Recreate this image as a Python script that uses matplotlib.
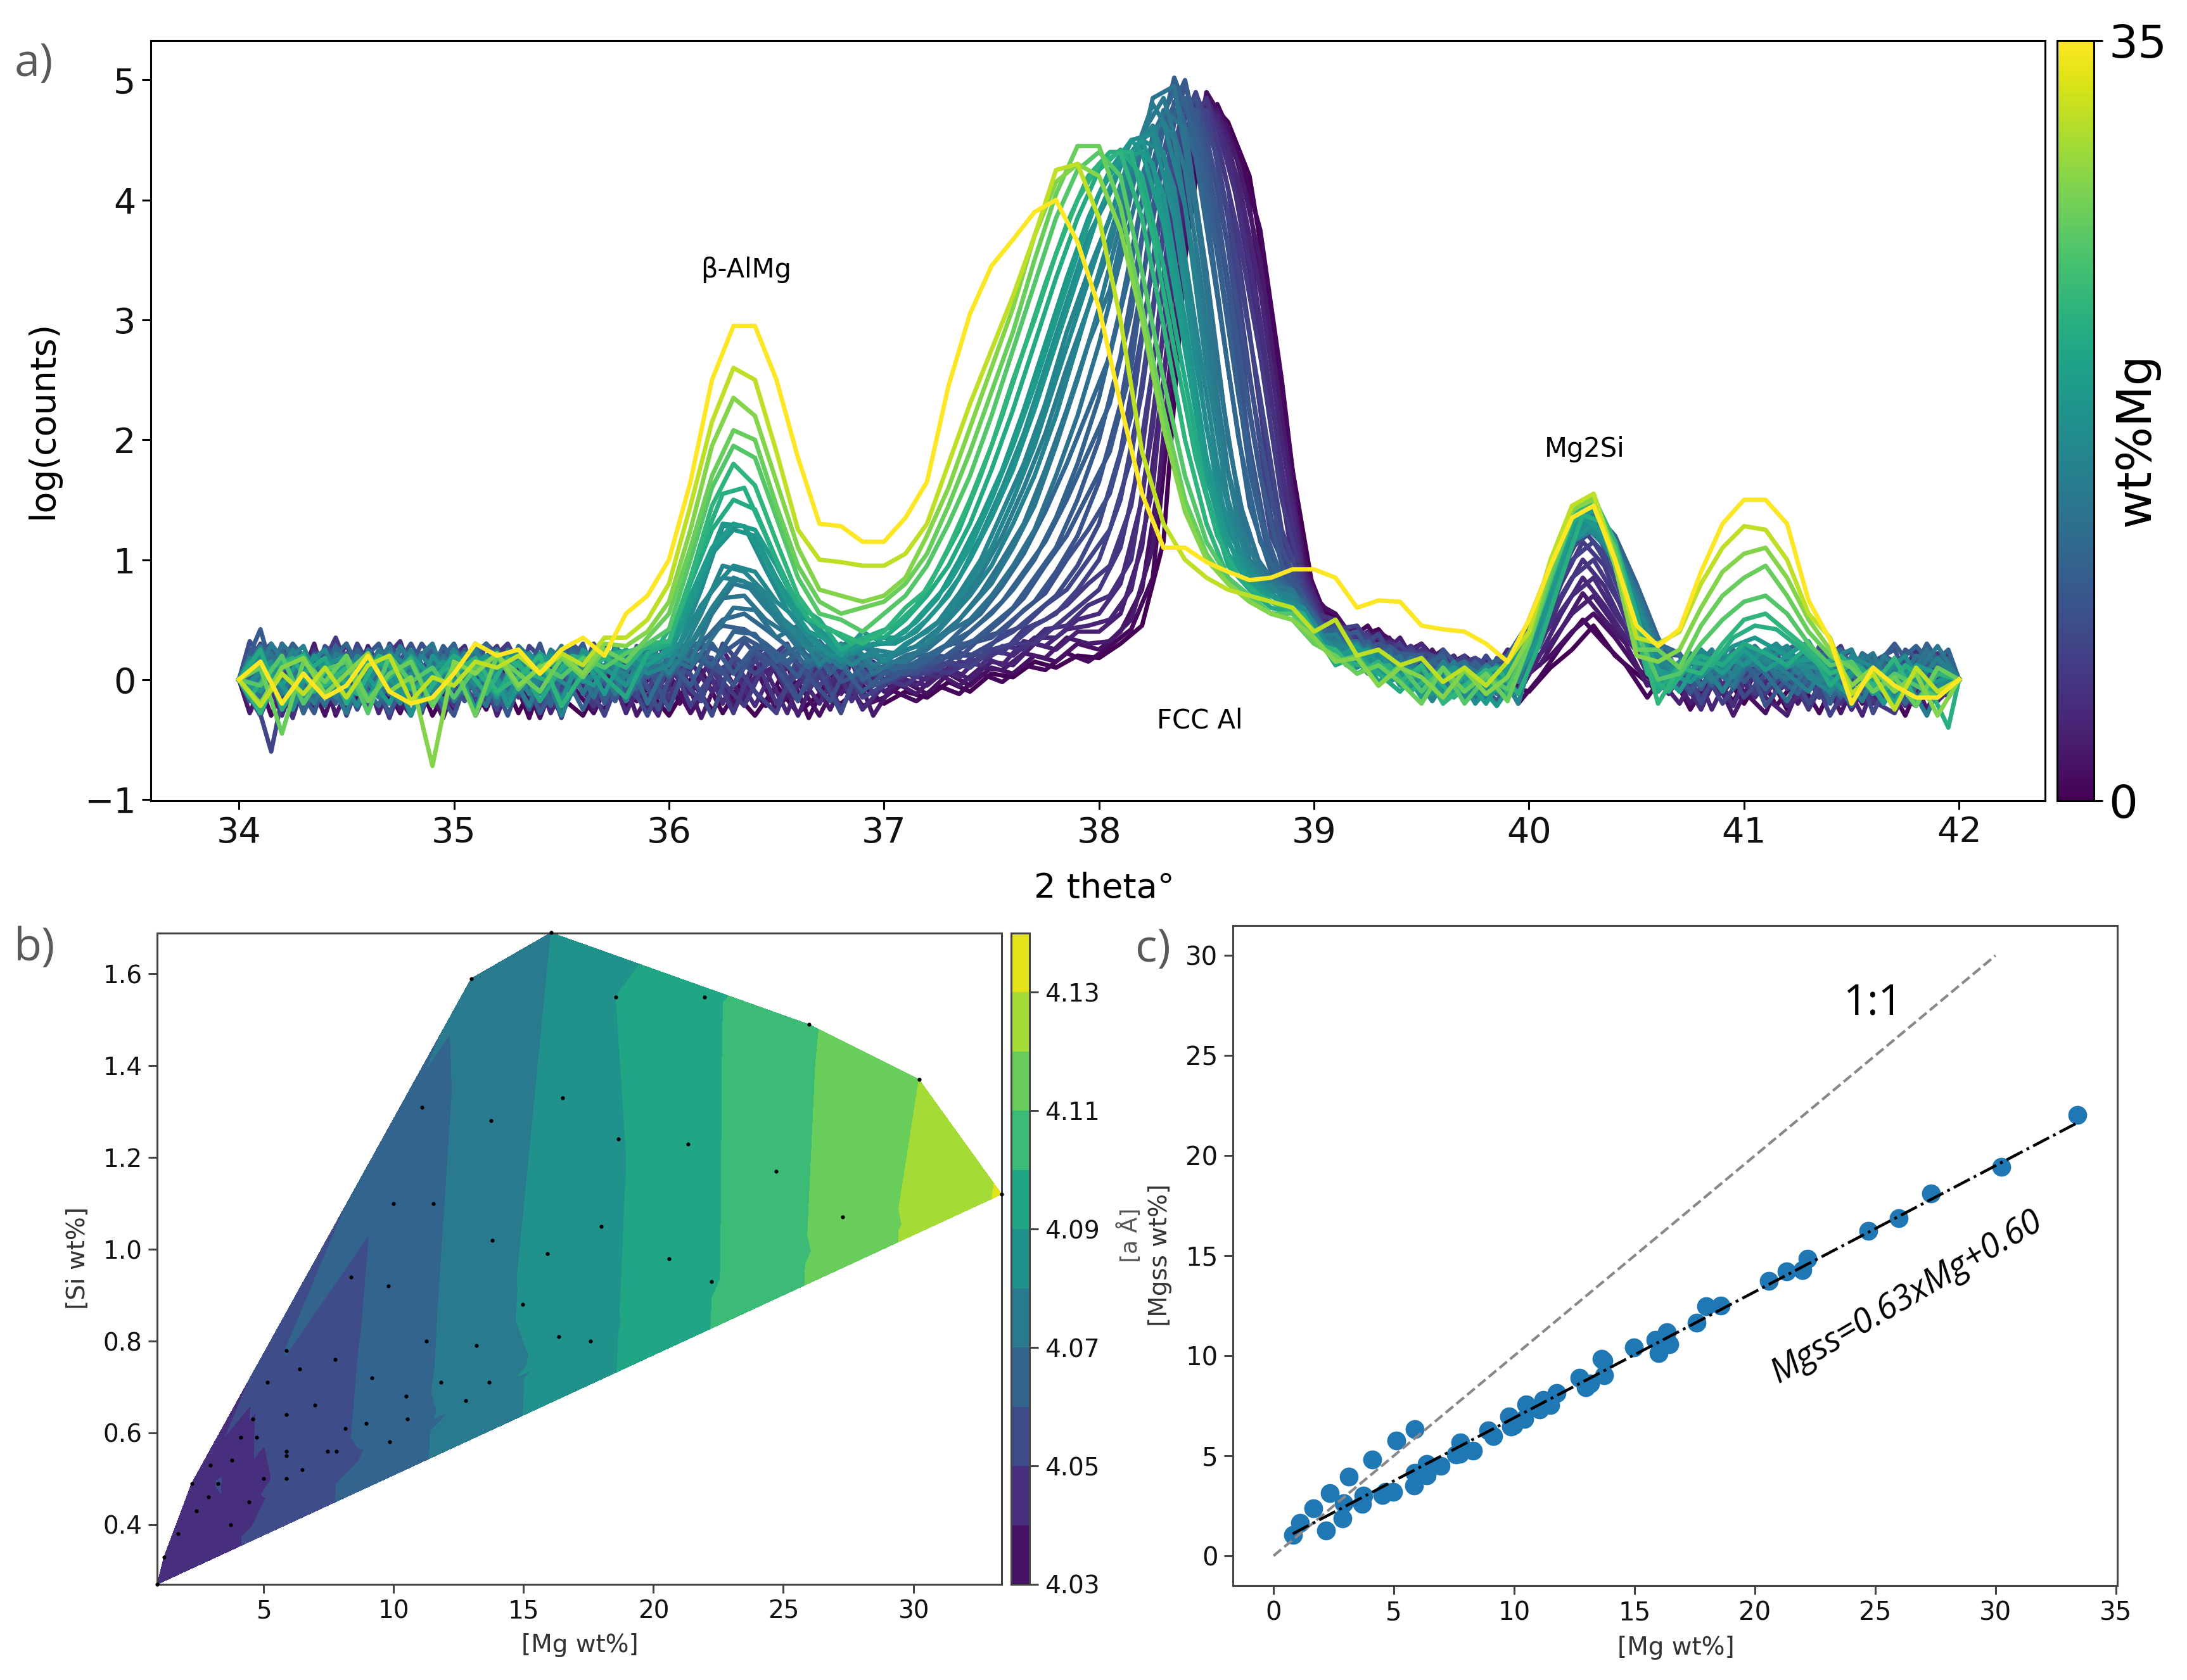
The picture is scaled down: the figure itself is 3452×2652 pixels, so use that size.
import numpy as np
import matplotlib
matplotlib.use('Agg')
import matplotlib.pyplot as plt
from matplotlib.cm import ScalarMappable
from matplotlib.colors import Normalize

W, H = 3452, 2652

# a) scans on a 0.1 degree grid from 34 to 42
two_theta = [round(34 + i * 0.1, 1) for i in range(81)]
scan_mg = [0.8, 2.2, 3.7, 4.7, 5.9, 7.0, 8.0, 9.2, 10.0, 11.0, 12.8, 13.7,
           15.0, 16.0, 17.6, 18.6, 20.6, 22.0, 24.7, 26.0, 27.3, 30.2, 33.4]
scans = [
    [0,-.12,.18,-.22,.1,-.25,.05,-.18,.15,-.3,
     .02,-.2,.12,-.28,.08,-.15,-.3,.05,-.22,-.08,
     -.3,.0,-.25,-.1,-.3,-.05,-.28,-.12,-.2,-.05,
     -.2,-.1,-.15,-.02,-.1,.05,.02,.15,.1,.2,
     .18,.3,.45,1.15,3.5,4.85,4.65,4.2,3.1,1.75,
     .7,.5,.35,.42,.2,.3,.1,.2,.05,-.05,
     -.1,.1,.25,.45,.2,.05,-.1,.1,-.15,.08,
     -.2,.1,-.25,.05,-.2,.1,-.15,.05,-.2,.15,0],
    [0,.22,-.15,.12,-.3,.2,-.12,.25,-.2,.08,
     -.25,.18,-.15,.1,-.32,.15,-.1,-.25,.12,-.18,
     .05,-.28,.0,-.2,.1,-.25,-.02,-.3,.05,-.22,
     -.15,-.02,-.12,.05,-.05,.1,.05,.2,.15,.3,
     .25,.4,.75,1.9,3.9,4.9,4.6,3.95,2.75,1.5,
     .65,.55,.3,.4,.28,.12,.25,.02,.15,-.12,
     .05,.2,.4,.55,.35,.1,-.05,.15,-.2,.1,
     -.1,-.28,.12,-.1,.15,-.25,.08,-.12,.2,-.1,0],
    [0,-.25,.3,-.1,.15,-.2,.28,-.05,-.3,.18,
     -.12,.25,-.3,.15,-.05,-.28,.1,-.15,.2,-.25,
     .1,-.12,.18,-.25,.02,.12,-.3,.1,-.12,.12,
     -.1,.0,-.05,.1,.0,.15,.12,.3,.25,.4,
     .4,.55,1.1,2.5,4.2,4.85,4.5,3.6,2.35,1.2,
     .6,.45,.42,.18,.35,.05,.22,.1,-.1,.2,
     .12,.3,.55,.7,.45,.25,.02,-.2,.12,-.12,
     .15,-.15,-.3,.12,-.18,.1,-.2,.18,-.12,.05,0],
    [0,.15,-.3,.2,-.05,.3,-.22,.1,.22,-.12,
     .2,-.3,.08,.25,-.2,.12,-.05,.2,-.28,.1,
     -.2,.15,-.1,.08,-.22,.15,.05,-.2,.12,-.25,
     -.05,.05,0,.15,.1,.25,.2,.35,.35,.5,
     .55,.8,1.5,2.9,4.4,4.85,4.4,3.4,2.1,1.0,
     .6,.4,.3,.35,.15,.3,.05,.18,-.02,.25,
     .2,.45,.7,.85,.55,.3,.1,.05,-.25,.15,
     -.05,.12,-.22,-.05,.12,-.25,.05,-.05,.25,-.18,0],
    [0,-.18,.25,-.28,.22,-.08,.15,-.32,.18,.05,
     -.22,.1,.28,-.15,.18,-.32,.22,-.12,-.02,.15,
     -.15,.2,.1,-.28,.18,-.2,.1,.15,-.25,.08,
     0,-.05,.1,.05,.15,.2,.3,.3,.45,.6,
     .75,1.1,1.9,3.3,4.55,4.85,4.1,2.9,1.6,.85,
     .55,.5,.28,.38,.12,.25,.15,-.05,.12,.05,
     .3,.55,.85,1.0,.7,.4,.12,.12,-.15,.05,
     .2,-.12,.1,-.25,.08,.18,-.18,-.28,.08,.22,0],
    [0,.3,-.08,.05,.25,-.3,.18,.1,-.12,.25,
     .08,-.18,.22,.02,-.25,.28,.05,-.3,.15,-.08,
     .2,-.22,.05,.15,-.1,-.28,.2,-.05,.15,-.15,
     -.05,.05,.05,.15,.1,.25,.3,.45,.55,.75,
     1.0,1.5,2.4,3.7,4.7,4.75,3.85,2.55,1.35,.8,
     .5,.42,.45,.2,.3,.08,.05,.2,-.12,.15,
     .35,.7,1.0,1.15,.85,.5,.2,-.05,.12,-.2,
     .05,.25,-.08,.15,-.3,.02,.2,-.1,-.22,.12,0],
    [0,-.3,.12,.22,-.15,.05,-.25,.3,.05,-.22,
     .25,.05,-.25,.18,.2,-.1,.25,-.15,.05,-.3,
     .12,.05,-.3,.2,.05,.18,-.15,.08,-.28,.2,
     0,.1,.08,.2,.2,.3,.4,.55,.7,.95,
     1.3,1.9,2.9,4.0,4.85,4.55,3.6,2.25,1.2,.8,
     .5,.38,.25,.38,.05,.22,.18,-.08,.2,-.05,
     .4,.8,1.1,1.25,.95,.55,.22,.2,-.2,.2,
     -.15,.05,.18,-.2,.1,.25,-.28,.1,.15,-.05,0],
    [0,.18,.05,-.2,.28,.12,-.18,.02,.3,-.05,
     -.3,.2,.1,-.12,.3,-.22,.02,.28,-.1,.12,
     -.25,.22,.18,-.05,.25,.1,-.18,.25,-.02,.05,
     .05,.05,.12,.2,.3,.35,.5,.65,.9,1.2,
     1.65,2.3,3.3,4.35,4.95,4.4,3.25,1.95,1.0,.8,
     .45,.45,.22,.3,.18,.0,.25,.05,-.15,.18,
     .45,.9,1.2,1.35,1.05,.6,.28,-.1,.15,.05,
     .22,-.22,.02,.22,-.12,-.05,.15,.25,-.15,.1,0],
    [0,.42,-.22,.18,-.02,.22,.08,-.28,.12,.25,
     -.02,.3,-.08,.18,-.28,.05,.3,-.2,.22,.02,
     .15,-.05,.3,.05,.28,.22,.02,.32,.12,-.1,
     .05,.12,.15,.3,.3,.45,.6,.85,1.1,1.5,
     2.0,2.7,3.7,4.6,5.0,4.2,3.0,1.75,.95,.75,
     .45,.35,.4,.12,.22,.2,-.05,.15,.05,-.08,
     .5,.95,1.3,1.4,1.15,.7,.3,.22,-.08,.22,
     -.02,.18,.28,-.05,.2,-.15,.08,.3,.05,-.02,0],
    [0,.05,.25,-.28,.12,.3,-.05,.15,-.2,.08,
     .3,-.12,.2,-.02,.22,.1,-.25,.12,-.05,.25,
     .02,.25,.12,.4,.38,.15,.28,.1,.3,.0,
     .1,.1,.2,.3,.4,.55,.75,1.0,1.35,1.8,
     2.35,3.1,4.0,4.6,4.85,3.9,2.6,1.45,.9,.7,
     .4,.42,.15,.25,.02,.12,.2,-.12,.12,.2,
     .48,.9,1.25,1.4,1.2,.8,.35,.05,.25,-.1,
     .15,-.08,.12,.22,-.2,.2,.02,.12,.28,.08,0],
    [0,-.15,.3,.1,-.22,.18,.05,.28,-.3,.15,
     -.05,.22,-.2,.28,.1,-.15,.18,.05,.25,-.2,
     .18,.1,.35,.6,.58,.35,.45,.15,.22,.12,
     .1,.2,.25,.4,.5,.7,.95,1.25,1.7,2.2,
     2.8,3.5,4.2,4.75,4.6,3.4,2.0,1.1,.85,.7,
     .4,.3,.32,.1,.2,-.1,.08,.15,-.18,.1,
     .42,.85,1.2,1.3,1.1,.75,.3,.2,-.05,.18,
     .2,.05,-.18,.15,.08,-.22,.15,-.08,.2,.15,0],
    [0,.28,-.12,.2,.05,-.28,.25,-.12,.12,.3,
     -.18,.08,.25,-.1,.02,.28,-.12,.22,-.18,.15,
     .25,.15,.55,.8,.75,.5,.3,.25,.1,.28,
     .15,.15,.3,.4,.6,.8,1.1,1.45,1.95,2.5,
     3.1,3.8,4.55,4.85,4.25,3.0,1.75,1.0,.8,.75,
     .4,.32,.15,.22,.05,.18,-.1,.12,.02,.05,
     .4,.9,1.25,1.38,1.15,.7,.25,.05,.22,.02,
     .28,.12,.0,.2,-.12,.1,.22,-.15,.05,.28,0],
    [0,-.2,.12,.28,-.15,.1,.2,-.05,.25,-.15,
     .12,.25,-.08,.05,.2,-.3,.1,.22,-.05,.3,
     .05,.3,.6,.85,.78,.55,.4,.12,.3,.2,
     .2,.25,.3,.5,.7,.95,1.3,1.7,2.2,2.8,
     3.4,4.0,4.5,4.65,3.95,2.6,1.5,.95,.75,.7,
     .35,.38,.1,.2,.08,-.12,.15,-.05,.12,.0,
     .38,.8,1.15,1.25,1.05,.6,.12,.1,.15,-.1,
     .22,.18,.05,-.1,.18,.25,-.12,.1,-.05,.18,0],
    [0,.2,-.22,.1,.25,-.1,-.02,.22,.1,-.12,
     .25,-.05,.15,.22,-.12,.2,-.02,.12,.25,.05,
     .12,.45,.75,.95,.9,.65,.5,.3,.15,.35,
     .15,.3,.4,.55,.8,1.1,1.5,1.95,2.5,3.05,
     3.6,4.1,4.5,4.4,3.4,2.1,1.25,.9,.7,.65,
     .4,.25,.3,.05,.15,-.02,.08,-.15,.1,-.05,
     .3,.75,1.2,1.35,1.1,.65,.2,.02,.25,.1,
     .3,.15,.28,.02,-.1,.2,.1,-.18,.12,-.12,0],
    [0,-.1,.18,-.18,.12,.2,-.15,.15,-.3,.2,
     -.02,.12,-.15,.25,.12,-.18,.25,.1,-.05,.2,
     .2,.6,1.05,1.25,1.2,.85,.55,.42,.25,.28,
     .3,.35,.5,.7,1.0,1.35,1.75,2.25,2.8,3.35,
     3.9,4.3,4.5,4.05,3.0,1.85,1.15,.85,.7,.6,
     .35,.22,.12,.25,-.05,.1,-.12,.05,-.08,.02,
     .28,.7,1.15,1.3,1.05,.55,-.05,.15,.02,.22,
     .12,.25,.1,.2,.05,.12,-.12,.15,-.02,-.15,0],
    [0,.12,-.05,.22,-.12,.18,.02,-.2,.2,.02,
     .15,-.25,.18,-.02,.22,.05,.2,-.12,.25,.12,
     .25,.7,1.1,1.3,1.25,.95,.6,.38,.2,.4,
     .3,.4,.6,.8,1.1,1.5,1.95,2.45,3.0,3.55,
     4.05,4.35,4.4,3.8,2.75,1.7,1.05,.8,.65,.6,
     .35,.18,.28,-.02,.12,-.15,.08,.02,-.2,.1,
     .32,.78,1.25,1.42,1.1,.5,.08,-.1,.2,.05,
     .25,.08,.2,.32,.02,-.15,.1,-.08,.12,.05,0],
    [0,.25,-.25,.05,.18,-.2,.15,.12,-.08,-.02,
     .2,.08,-.12,.15,-.18,.1,.2,.02,-.15,.22,
     .3,.8,1.25,1.5,1.42,1.0,.62,.5,.25,.35,
     .35,.5,.7,.95,1.3,1.75,2.25,2.8,3.35,3.85,
     4.25,4.42,4.2,3.45,2.5,1.55,.95,.75,.6,.55,
     .4,.12,.2,.05,-.1,.1,-.18,.05,-.02,-.15,
     .35,.85,1.3,1.5,1.15,.55,-.1,.12,.2,.12,
     .3,.22,.12,.28,-.05,.15,.02,-.2,.1,-.12,0],
    [0,-.28,.12,.2,-.05,.1,-.15,.02,.18,-.22,
     .05,.18,-.1,.02,.2,-.22,.05,.18,.1,.3,
     .32,.85,1.45,1.8,1.62,1.15,.7,.45,.38,.3,
     .4,.6,.75,1.1,1.5,1.95,2.5,3.0,3.55,4.0,
     4.3,4.4,3.85,2.95,2.0,1.3,.85,.7,.55,.5,
     .3,.25,.05,.15,-.02,.12,-.2,-.05,.08,-.1,
     .3,.82,1.35,1.52,1.15,.45,-.2,.1,.05,.3,
     .5,.55,.4,.25,.05,.12,-.05,.18,-.18,.05,0],
    [0,-.05,.2,-.2,.08,.15,-.28,.2,-.02,.1,
     -.15,.1,.2,-.08,.12,.02,.18,.1,.22,.3,
     .42,1.0,1.6,1.95,1.85,1.35,.85,.55,.5,.4,
     .55,.7,.95,1.3,1.7,2.2,2.75,3.3,3.85,4.25,
     4.4,4.2,3.4,2.5,1.7,1.15,.85,.7,.55,.55,
     .35,.15,.2,-.05,.12,-.1,.1,-.2,.02,-.08,
     .3,.85,1.35,1.45,1.1,.4,.0,.05,.3,.5,
     .65,.7,.55,.3,.12,.15,-.1,.05,-.05,-.15,0],
    [0,.1,-.45,.15,-.02,.2,-.18,.05,.15,-.22,
     .12,-.3,.2,.05,-.1,.18,.02,.25,.15,.35,
     .55,1.1,1.7,2.08,2.0,1.45,.95,.65,.55,.6,
     .65,.8,1.05,1.45,1.9,2.4,2.9,3.5,4.05,4.45,
     4.45,3.95,3.1,2.25,1.5,1.05,.8,.65,.55,.5,
     .3,.2,.05,.12,-.02,-.2,.1,-.1,.05,-.18,
     .3,.9,1.4,1.55,1.05,.25,.25,.1,.45,.7,
     .85,.95,.7,.4,.2,.1,-.1,.02,-.22,.1,0],
    [0,-.2,.1,.18,-.12,.05,.22,-.1,.02,-.72,
     .15,.05,.22,-.05,.1,.2,.05,.3,.28,.4,
     .65,1.25,1.95,2.35,2.2,1.65,1.1,.75,.7,.65,
     .7,.85,1.2,1.6,2.1,2.6,3.1,3.7,4.15,4.3,
     4.2,3.75,3.0,2.1,1.4,1.0,.8,.65,.55,.5,
     .35,.15,.18,-.05,.1,.02,-.15,.08,-.12,.02,
     .35,.95,1.42,1.5,.95,.2,.15,.25,.6,.9,
     1.05,1.1,.85,.5,.25,-.05,.1,-.1,.05,-.3,0],
    [0,-.22,.05,-.12,.1,-.15,.12,.2,-.18,.02,
     -.05,.15,.1,.2,.05,.22,.12,.35,.35,.5,
     .8,1.45,2.15,2.6,2.5,1.9,1.25,1.0,.98,.95,
     .95,1.05,1.3,1.8,2.3,2.75,3.2,3.7,4.25,4.3,
     3.85,3.0,1.9,1.3,1.0,.85,.75,.7,.65,.6,
     .4,.5,.2,.25,.12,.18,-.02,.1,-.05,.15,
     .4,1.0,1.45,1.55,1.0,.35,.3,.4,.8,1.1,
     1.28,1.25,1.0,.55,.35,-.12,.05,-.25,.1,-.1,0],
    [0,.15,-.2,.05,-.15,-.05,.2,-.1,-.2,-.15,
     .05,.3,.2,.25,.05,.25,.35,.2,.55,.7,
     1.0,1.65,2.5,2.95,2.95,2.5,1.85,1.3,1.28,1.15,
     1.15,1.35,1.65,2.45,3.05,3.45,3.67,3.9,4.0,3.65,
     3.1,2.3,1.55,1.1,1.1,.98,.9,.83,.85,.92,
     .92,.85,.6,.66,.65,.45,.42,.4,.3,.15,
     .5,.95,1.35,1.45,1.0,.45,.28,.42,.9,1.3,
     1.5,1.5,1.3,.66,.33,-.2,.1,-.05,-.15,-.15,0],
]

# more scans read between the steps of that grid: 34, 34.05, 34.15 ... 41.95, 42
two_theta_mid = [34.0] + [round(34.05 + i * 0.1, 2) for i in range(80)] + [42.0]
mid_mg = [1.5, 3.0, 4.2, 5.3, 6.4, 7.5, 8.6, 9.6, 10.5, 11.5, 13.2, 14.3, 15.5, 16.4, 18.0, 21.3]
mid_scans = [
    [0,.2,-.3,.12,-.22,.28,-.15,.05,-.28,.22,-.1,
     .05,-.25,.15,-.32,.22,-.05,-.28,.1,-.18,.18,
     -.2,.08,-.28,.02,-.22,.12,-.32,.05,-.15,.1,
     -.1,-.18,-.05,-.12,.05,-.02,.12,.08,.22,.15,
     .28,.42,.85,2.6,4.5,4.8,4.4,3.75,2.5,1.0,
     .55,.32,.45,.18,.28,.08,.2,-.05,.12,-.2,
     .02,.28,.5,.3,.12,-.15,.1,-.25,.05,-.18,
     .12,-.22,.02,-.28,.1,-.2,.02,-.3,.12,-.15,0],
    [0,-.28,.15,-.18,.3,-.3,.1,.2,-.25,.05,-.32,
     .18,-.1,.28,-.2,.05,.15,-.25,.2,-.3,.02,
     .15,-.32,.1,-.18,.22,-.12,.05,-.25,.15,-.3,
     -.02,-.12,.05,-.05,.1,.08,.22,.18,.35,.3,
     .32,.5,1.1,3.0,4.6,4.75,4.3,3.5,2.2,.95,
     .5,.38,.2,.35,.05,.25,-.02,.15,-.1,.08,
     .12,.42,.72,.5,.3,-.05,.12,-.2,.08,-.3,
     .05,.15,-.2,.1,-.28,.12,-.05,.18,-.25,.1,0],
    [0,.12,.3,-.25,.1,-.12,.22,-.28,.15,-.05,.22,
     -.15,.3,-.05,.22,-.28,.12,-.1,.25,-.02,-.3,
     .2,-.12,.25,-.05,.08,-.28,.2,-.12,.22,-.05,
     .02,-.05,.1,.02,.2,.12,.32,.28,.42,.45,
     .5,.75,1.6,3.4,4.7,4.7,4.15,3.25,2.0,.9,
     .5,.28,.4,.1,.28,.15,-.08,.18,.02,-.12,
     .2,.55,.85,.62,.35,.12,-.12,.2,-.25,.12,
     -.15,.1,.2,-.15,.05,-.3,.18,.02,-.12,.22,0],
    [0,-.05,.18,-.32,.25,.02,-.2,.12,.32,-.18,.12,
     .28,-.22,.05,.18,-.12,.3,-.22,.02,.2,-.12,
     -.05,.22,-.2,.12,.28,-.1,.02,.25,-.18,.15,
     -.02,.08,.02,.15,.12,.28,.25,.42,.45,.62,
     .7,1.0,2.1,3.8,4.8,4.62,3.95,3.0,1.75,.85,
     .45,.42,.15,.32,.2,-.05,.2,-.1,.15,.05,
     .28,.68,1.0,.78,.42,.05,.18,-.08,.12,-.22,
     .2,-.1,.02,.22,-.2,.12,.05,-.22,.15,-.08,0],
    [0,.25,-.12,.2,-.02,.35,-.1,.22,.05,-.28,.25,
     -.1,.12,.3,-.05,.22,.02,-.22,.28,.05,-.15,
     .12,.28,-.02,-.22,.15,.3,-.08,.12,.28,-.12,
     .08,.02,.15,.1,.25,.22,.42,.5,.62,.8,
     .95,1.45,2.6,4.15,4.88,4.5,3.7,2.7,1.5,.8,
     .42,.35,.38,.12,.28,.02,.12,.18,-.1,.15,
     .35,.8,1.15,.95,.5,.18,-.05,.2,-.05,.18,
     -.12,.22,-.1,.12,.28,-.12,.12,-.1,.2,-.02,0],
    [0,.02,-.6,.28,.12,-.18,.3,-.02,.18,.1,-.22,
     .22,.05,-.2,.28,.1,-.12,.3,.05,-.15,.28,
     .02,-.18,.3,.1,.22,-.05,.15,.3,.02,-.05,
     .02,.12,.08,.22,.2,.38,.45,.62,.75,1.0,
     1.25,1.85,3.1,4.45,4.9,4.35,3.4,2.35,1.25,.75,
     .42,.28,.35,.05,.25,.12,-.1,.18,.08,-.1,
     .42,.9,1.25,1.05,.6,.22,.12,-.12,.2,.08,
     .25,-.02,.15,-.15,.22,.05,-.2,.18,-.12,.02,0],
    [0,.32,.08,-.12,.22,.18,-.25,.12,-.05,.3,.05,
     -.18,.3,.12,-.25,.15,.25,-.08,.2,.12,-.25,
     .28,.15,.05,.32,.12,.25,.02,-.18,.2,.08,
     .08,.05,.2,.18,.35,.4,.58,.72,1.0,1.25,
     1.55,2.2,3.5,4.65,4.85,4.15,3.05,2.0,1.1,.7,
     .42,.22,.32,.15,.02,.2,.05,-.12,.18,.0,
     .5,1.05,1.35,1.15,.7,.25,-.02,.22,.02,.2,
     .05,.22,-.1,.28,.02,-.18,.2,.1,.25,-.1,0],
    [0,-.08,.28,.02,-.28,.25,.12,.3,-.1,.22,-.02,
     .25,.12,-.3,.2,.05,.3,.12,-.18,.28,.02,
     .12,.3,.22,.35,.25,.12,.3,.08,.22,-.05,
     .02,.15,.15,.28,.35,.5,.68,.95,1.2,1.55,
     1.9,2.6,3.95,4.82,4.75,3.9,2.75,1.7,.95,.7,
     .38,.4,.1,.28,.15,-.12,.12,.02,-.18,.12,
     .55,1.1,1.4,1.25,.8,.3,.2,-.1,.18,.02,
     .28,.1,-.05,.22,.15,.02,-.15,.25,.12,.18,0],
    [0,.22,-.02,.3,.08,-.2,.25,.02,.15,-.12,.28,
     .05,-.15,.22,.1,-.22,.25,.05,.18,-.08,.3,
     .22,.32,.45,.42,.3,.15,.32,.05,.25,.1,
     .12,.1,.25,.32,.48,.65,.9,1.15,1.5,1.9,
     2.3,3.05,4.3,5.02,4.55,3.55,2.35,1.35,.85,.65,
     .42,.22,.32,.08,.2,.1,-.1,.15,-.05,.2,
     .6,1.15,1.45,1.3,.85,.28,.05,.22,-.05,.25,
     .02,.2,.3,.05,-.15,.22,.1,-.05,.3,.02,0],
    [0,-.18,.2,.12,-.15,.28,.02,-.22,.25,.12,-.25,
     .15,.3,-.1,.18,-.2,.25,.12,-.1,.22,.08,
     .28,.3,.5,.55,.42,.28,.1,.28,.02,.2,
     .08,.2,.22,.4,.55,.78,1.05,1.4,1.8,2.25,
     2.7,3.45,4.55,4.9,4.35,3.2,2.0,1.15,.8,.65,
     .38,.3,.12,.25,-.05,.15,.02,-.15,.12,.05,
     .55,1.1,1.4,1.25,.85,.35,.12,.02,.25,-.08,
     .22,.05,-.12,.2,.25,-.1,.15,-.2,.08,.25,0],
    [0,.08,.22,-.25,.18,.05,-.12,.25,.1,-.25,.2,
     .02,-.22,.25,.12,-.05,.2,-.15,.28,.05,.12,
     .15,.42,.68,.7,.5,.38,.15,.25,.32,.05,
     .15,.22,.35,.5,.72,1.0,1.3,1.75,2.25,2.8,
     3.25,4.05,4.85,4.95,3.9,2.6,1.5,.95,.75,.6,
     .35,.12,.28,.02,.18,-.15,.1,.05,-.12,.12,
     .5,1.05,1.38,1.2,.85,.3,.02,.2,.1,-.05,
     .28,.02,.2,.12,-.12,.22,.05,-.05,.25,-.12,0],
    [0,-.12,.3,.05,-.2,.22,.12,-.15,.28,.02,.15,
     -.12,.2,.1,-.22,.25,.1,.18,-.12,.22,.2,
     .3,.62,.85,.82,.6,.42,.3,.15,.3,.12,
     .2,.28,.42,.62,.88,1.2,1.6,2.05,2.6,3.1,
     3.6,4.3,4.8,4.5,3.4,2.15,1.3,.9,.7,.6,
     .35,.2,.22,.05,.12,-.1,.15,-.12,.05,-.02,
     .45,1.0,1.32,1.18,.8,.25,.08,.22,-.02,.15,
     .12,.28,.05,.18,.1,-.18,.2,.02,-.3,.12,0],
    [0,.18,-.1,.25,.02,-.15,.2,.08,-.2,.2,-.02,
     .22,.02,.18,-.12,.22,.02,.25,.1,-.02,.28,
     .2,.55,.95,.9,.72,.45,.25,.28,.12,.25,
     .22,.35,.48,.72,1.0,1.4,1.8,2.3,2.9,3.4,
     3.85,4.4,4.62,4.1,2.95,1.8,1.1,.85,.7,.6,
     .32,.28,.05,.18,.08,-.18,.1,-.05,.12,-.2,
     .42,.95,1.3,1.12,.8,.2,.1,.05,.25,.02,
     .25,.1,.18,-.02,.2,.05,-.2,.12,-.1,-.02,0],
    [0,-.02,.15,-.25,.2,.08,-.22,.2,-.02,.12,-.18,
     .1,.2,-.15,.22,.05,-.08,.18,.22,.12,.15,
     .3,.75,1.28,1.28,.92,.58,.35,.2,.22,.3,
     .3,.4,.6,.85,1.2,1.6,2.05,2.6,3.15,3.7,
     4.05,4.5,4.55,3.85,2.65,1.6,1.05,.8,.65,.6,
     .32,.2,.15,.2,-.08,.05,.1,-.2,.02,.12,
     .38,.9,1.32,1.15,.78,.15,-.05,.2,.1,.22,
     .18,.3,.12,.1,-.08,.15,.05,.2,-.15,.02,0],
    [0,.15,.05,-.15,.2,-.08,.12,.15,-.12,-.02,.15,
     .02,.2,-.22,.12,.2,.05,-.05,.25,.2,.18,
     .4,.85,1.3,1.28,1.0,.65,.4,.32,.25,.35,
     .35,.48,.68,1.0,1.35,1.75,2.25,2.8,3.35,3.85,
     4.25,4.5,4.3,3.4,2.3,1.4,.95,.75,.65,.55,
     .28,.2,.25,-.02,.08,-.12,.1,.0,-.22,.05,
     .35,.9,1.35,1.22,.72,.12,.05,-.02,.15,.28,
     .35,.25,.15,.18,.02,.1,-.2,.12,-.05,.02,0],
    [0,-.15,.1,.18,-.1,.05,-.12,.2,.1,-.18,.08,
     .12,-.12,.18,.05,-.02,.2,.15,.22,.25,.28,
     .55,1.1,1.55,1.6,1.2,.78,.5,.42,.3,.38,
     .45,.62,.92,1.25,1.7,2.2,2.75,3.3,3.8,4.2,
     4.4,4.4,3.7,2.75,1.85,1.2,.85,.7,.6,.55,
     .25,.15,.1,.12,-.1,.05,-.15,.02,.1,-.12,
     .3,.85,1.38,1.3,.75,.05,-.1,.15,.12,.35,
     .45,.42,.28,.12,.2,.02,-.1,.12,-.02,-.4,0],
]

# b) composition of the measured spots and their lattice parameter
spot_mg = [0.9, 1.17, 1.71, 2.23, 2.42, 2.88, 2.96, 3.23, 3.72, 3.78, 4.13, 4.43, 4.59,
           4.73, 5.0, 5.14, 5.87, 5.87, 5.87, 5.87, 5.87, 6.39, 6.49, 6.98, 7.45, 7.74,
           7.8, 8.13, 8.37, 8.94, 9.16, 9.81, 9.86, 10.0, 10.49, 10.54, 11.09, 11.25,
           11.52, 11.82, 12.77, 12.99, 13.2, 13.67, 13.75, 13.8, 14.97, 15.92, 16.06,
           16.36, 16.5, 17.58, 17.99, 18.56, 18.64, 20.6, 21.33, 21.96, 22.23, 24.73,
           25.98, 27.28, 30.22, 33.4]
spot_si = [0.27, 0.33, 0.38, 0.49, 0.43, 0.46, 0.53, 0.49, 0.40, 0.54, 0.59, 0.45, 0.63,
           0.59, 0.50, 0.71, 0.78, 0.64, 0.56, 0.55, 0.50, 0.74, 0.52, 0.66, 0.56, 0.76,
           0.56, 0.61, 0.94, 0.62, 0.72, 0.92, 0.58, 1.10, 0.68, 0.63, 1.31, 0.80,
           1.10, 0.71, 0.67, 1.59, 0.79, 0.71, 1.28, 1.02, 0.88, 0.99, 1.69,
           0.81, 1.33, 0.80, 1.05, 1.55, 1.24, 0.98, 1.23, 1.55, 0.93, 1.17,
           1.49, 1.07, 1.37, 1.12]
spot_a = [4.041, 4.042, 4.043, 4.044, 4.044, 4.046, 4.045, 4.051, 4.047, 4.047, 4.049, 4.049, 4.0495,
          4.0505, 4.049, 4.052, 4.0605, 4.054, 4.052, 4.052, 4.052, 4.055, 4.053, 4.056, 4.057, 4.057,
          4.058, 4.059, 4.058, 4.062, 4.062, 4.063, 4.063, 4.063, 4.065, 4.065, 4.066, 4.067,
          4.067, 4.072, 4.075, 4.073, 4.074, 4.076, 4.075, 4.075, 4.081, 4.082, 4.080,
          4.083, 4.083, 4.087, 4.087, 4.090, 4.089, 4.095, 4.097, 4.098, 4.099, 4.106,
          4.109, 4.114, 4.120, 4.131]
a_levels = [4.03, 4.04, 4.05, 4.06, 4.07, 4.08, 4.09, 4.10, 4.11, 4.12, 4.13, 4.14]
a_ticks = [4.03, 4.05, 4.07, 4.09, 4.11, 4.13]

# c) solid solution Mg against total Mg
total_mg = [0.8, 1.09, 1.66, 2.34, 2.17, 2.86, 2.91, 3.14, 3.69, 3.74, 4.09, 4.51, 4.66, 4.97,
            5.09, 5.86, 5.83, 5.86, 6.37, 6.37, 6.94, 7.57, 7.77, 7.74, 8.29, 8.91, 9.14, 9.8,
            9.86, 9.97, 10.43, 10.49, 11.06, 11.2, 11.51, 11.77, 12.71, 12.97, 13.17, 13.63,
            13.71, 13.74, 14.97, 15.86, 16.0, 16.34, 16.46, 17.57, 17.97, 18.57, 20.57, 21.31,
            21.97, 22.2, 24.71, 25.97, 27.31, 30.23, 33.4]
mgss = [1.03, 1.64, 2.37, 3.13, 1.27, 1.86, 2.64, 3.96, 2.59, 2.99, 4.82, 3.03, 3.2, 3.18,
        5.75, 6.34, 3.52, 4.13, 4.01, 4.58, 4.5, 5.06, 5.68, 5.09, 5.24, 6.26, 5.97, 6.95,
        6.46, 6.51, 6.83, 7.56, 7.32, 7.78, 7.54, 8.12, 8.91, 8.42, 8.61, 9.84,
        9.76, 9.03, 10.4, 10.81, 10.13, 11.16, 10.57, 11.65, 12.48, 12.5, 13.73, 14.22,
        14.27, 14.85, 16.25, 16.86, 18.1, 19.43, 22.02]
fit_x = [0.8, 33.4]
fit_y = [1.1, 21.64]
one_x = [0, 30]
one_y = [0, 30]

fig = plt.figure(figsize=(W / 200, H / 200), dpi=200)


def box(left, top, right, bottom):
    return [left / W, 1 - bottom / H, (right - left) / W, (bottom - top) / H]


def label(x, y, s, **kw):
    fig.text(x / W, 1 - y / H, s, ha='center', va='center', **kw)


def style(ax, size, colour='#222222'):
    for sp in ax.spines.values():
        sp.set_linewidth(1.1)
        sp.set_color(colour)
    ax.tick_params(labelsize=size, width=1.1, length=5, color=colour, labelcolor='#111111')


# Panel a, low Mg underneath
ax1 = fig.add_axes(box(238, 64, 3228, 1264))
norm = Normalize(min(scan_mg), max(scan_mg))
all_scans = [(mg, two_theta, s) for mg, s in zip(scan_mg, scans)]
all_scans += [(mg, two_theta_mid, s) for mg, s in zip(mid_mg, mid_scans)]
for mg, grid, scan in sorted(all_scans, key=lambda item: item[0]):
    ax1.plot(grid, scan, color=plt.cm.viridis(norm(mg)), lw=2.5)
ax1.set_xlim(33.59, 42.4)
ax1.set_ylim(-1.01, 5.33)
ax1.set_xticks(range(34, 43))
ax1.set_yticks(range(-1, 6))
style(ax1, 20, 'black')
ax1.text(36.36, 3.42, 'β-AlMg', fontsize=15, ha='center', va='center')
ax1.text(40.26, 1.92, 'Mg2Si', fontsize=15, ha='center', va='center')
ax1.text(38.47, -0.34, 'FCC Al', fontsize=15, ha='center', va='center')

cax1 = fig.add_axes(box(3247, 64, 3305, 1264))
cb1 = fig.colorbar(ScalarMappable(norm=norm, cmap='viridis'), cax=cax1)
cb1.set_ticks([min(scan_mg), max(scan_mg)])
cb1.set_ticklabels(['0', '35'])
cb1.ax.tick_params(labelsize=26, width=1.1, length=5)
cb1.outline.set_linewidth(1.1)

label(1743, 1402, '2 theta°', fontsize=19.5)
label(68, 662, 'log(counts)', fontsize=20, rotation=90)
label(3372, 694, 'wt%Mg', fontsize=27, rotation=90)

# Panel b
ax2 = fig.add_axes(box(248, 1473, 1581, 2501))
cs = ax2.tricontourf(spot_mg, spot_si, spot_a, levels=a_levels, cmap='viridis')
ax2.scatter(spot_mg, spot_si, s=5, c='k', linewidths=0, zorder=3, clip_on=False)
ax2.set_xlim(0.9, 33.4)
ax2.set_ylim(0.27, 1.689)
ax2.set_xticks([5, 10, 15, 20, 25, 30])
ax2.set_yticks([0.4, 0.6, 0.8, 1.0, 1.2, 1.4, 1.6])
style(ax2, 14, '#444444')

cax2 = fig.add_axes(box(1596, 1473, 1625, 2501))
cb2 = fig.colorbar(cs, cax=cax2, ticks=a_ticks)
cb2.ax.set_yticklabels(['%.2f' % t for t in a_ticks])
cb2.ax.tick_params(labelsize=14, width=1.1, length=5, color='#444444', labelcolor='#111111')
cb2.outline.set_linewidth(1.1)
cb2.outline.set_edgecolor('#444444')

label(915, 2597, '[Mg wt%]', fontsize=14, color='#333333')
label(123, 1986, '[Si wt%]', fontsize=14, color='#333333', rotation=90)

# Panel c
ax3 = fig.add_axes(box(1946, 1461, 3342, 2503))
ax3.plot(one_x, one_y, color='#888888', ls='--', lw=1.5)
ax3.scatter(total_mg, mgss, s=115, color='#1f77b4', linewidths=0)
ax3.plot(fit_x, fit_y, color='k', ls='-.', lw=1.6)
ax3.set_xlim(-1.69, 35.06)
ax3.set_ylim(-1.49, 31.5)
ax3.set_xticks([0, 5, 10, 15, 20, 25, 30, 35])
ax3.set_yticks([0, 5, 10, 15, 20, 25, 30])
style(ax3, 14.5, '#444444')
ax3.text(24.9, 27.6, '1:1', fontsize=24, family='Open Sans', ha='center', va='center')
ax3.text(26.3, 12.94, 'Mgss=0.63xMg+0.60', fontsize=19.5, family='Open Sans', style='italic',
         rotation=30.5, ha='center', va='center', rotation_mode='anchor')

label(2645, 2601, '[Mg wt%]', fontsize=14, color='#333333')
label(1783, 1950, '[a Å]', fontsize=13, color='#555555', rotation=90)
label(1831, 1981, '[Mgss wt%]', fontsize=14, color='#333333', rotation=90)

# Panel letters
label(53, 101, 'a)', fontsize=26, family='Open Sans', color='#595959')
label(55, 1497, 'b)', fontsize=26, family='Open Sans', color='#595959')
label(1820, 1499, 'c)', fontsize=26, family='Open Sans', color='#595959')

fig.savefig('out.png', dpi=200)
